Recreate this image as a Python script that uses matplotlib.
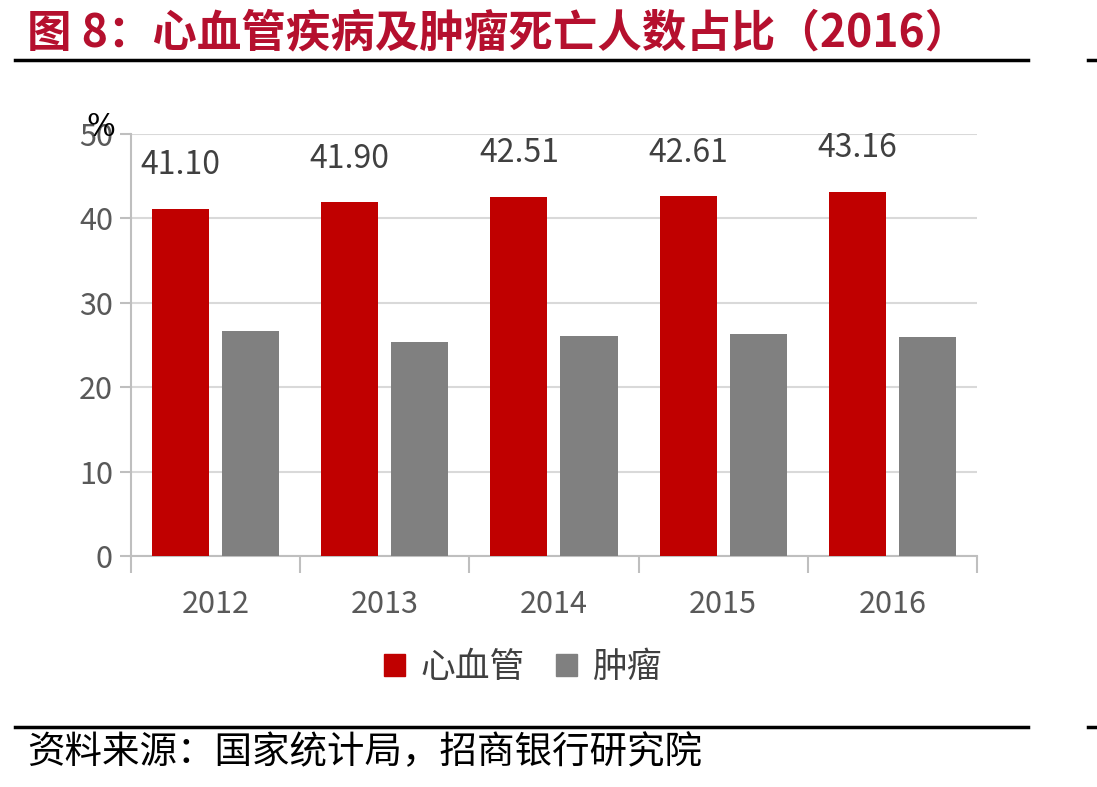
import numpy as np
import matplotlib.pyplot as plt
from matplotlib.lines import Line2D
from matplotlib.patches import Patch

plt.rcParams['font.family'] = ['Noto Sans CJK SC', 'DejaVu Sans']

# ---- Data ----
years = ['2012', '2013', '2014', '2015', '2016']
cardio = [41.10, 41.90, 42.51, 42.61, 43.16]
tumor = [26.7, 25.4, 26.1, 26.35, 26.0]
series_names = ['心血管', '肿瘤']

title = '图 8：心血管疾病及肿瘤死亡人数占比（2016）'
source = '资料来源：国家统计局，招商银行研究院'

RED = '#C00000'
GRAY = '#808080'
TXT = '#595959'

fig = plt.figure(figsize=(10.97, 7.87), dpi=100)
ax = fig.add_axes([0.1194, 0.2935, 0.7712, 0.5362])

x = np.arange(len(years))
width = 0.337
off = 0.207
ax.bar(x - off, cardio, width, color=RED, zorder=3)
ax.bar(x + off, tumor, width, color=GRAY, zorder=3)

for xi, v in zip(x, cardio):
    ax.text(xi - off, v + 3.3, f'{v:.2f}', ha='center', va='bottom',
            fontsize=23, color='#404040')

ax.set_xlim(-0.5, len(years) - 0.5)
ax.set_ylim(0, 50)
ax.set_yticks(range(0, 51, 10))
ax.yaxis.grid(True, color='#D9D9D9', linewidth=1.5, zorder=0)
ax.set_axisbelow(True)
for s in ['top', 'right']:
    ax.spines[s].set_visible(False)
for s in ['left', 'bottom']:
    ax.spines[s].set_color('#BFBFBF')
    ax.spines[s].set_linewidth(1.5)

ax.set_xticks(x)
ax.set_xticklabels(years)
ax.tick_params(axis='x', length=0, pad=24, labelsize=22, labelcolor=TXT)
ax.set_xticks(np.arange(-0.5, len(years), 1), minor=True)
ax.tick_params(axis='x', which='minor', length=12, width=1.5, color='#BFBFBF')
ax.tick_params(axis='y', length=8, width=1.5, color='#BFBFBF', pad=5,
               labelsize=22, labelcolor=TXT)

# unit sign, sits over the top tick label as in the source chart
fig.text(0.092, 0.838, '%', fontsize=22, family='DejaVu Serif',
         color='black', ha='center', va='center')

# legend
handles = [Patch(color=RED), Patch(color=GRAY)]
fig.legend(handles, series_names, loc='center', bbox_to_anchor=(0.477, 0.152),
           ncol=2, frameon=False, fontsize=25, handlelength=0.6,
           handleheight=0.6, handletextpad=0.45, columnspacing=0.9,
           labelcolor='#404040')

# title, rules and source
fig.text(0.025, 0.957, title, fontsize=32, fontweight='bold', color='#B5102E',
         ha='left', va='center')
for yy in [0.924, 0.076]:
    fig.add_artist(Line2D([0.014, 0.937], [yy, yy], color='black',
                          linewidth=2.5, transform=fig.transFigure))
    fig.add_artist(Line2D([0.992, 1.0], [yy, yy], color='black',
                          linewidth=2.5, transform=fig.transFigure))
fig.text(0.025, 0.044, source, fontsize=27, color='black',
         ha='left', va='center')

fig.savefig('out.png', dpi=100)
